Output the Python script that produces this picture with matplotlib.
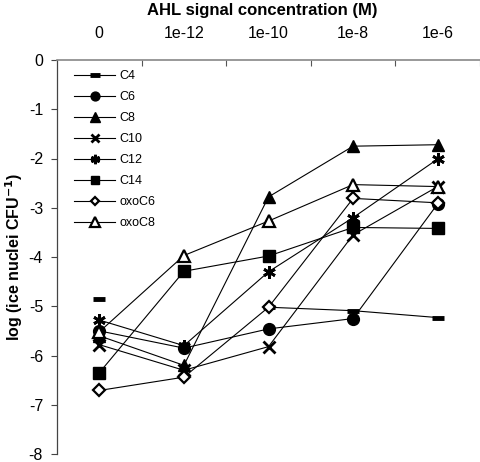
import numpy as np
import matplotlib
matplotlib.use("Agg")
import matplotlib.pyplot as plt

plt.rcParams['font.family'] = ['Liberation Sans', 'DejaVu Sans']
plt.rcParams['axes.unicode_minus'] = False

categories = ["0", "1e-12", "1e-10", "1e-8", "1e-6"]
nan = np.nan
C4 = [-4.85, nan, -5.02, -5.09, -5.23]
C6 = [-5.50, -5.85, -5.46, -5.25, -2.92]
C8 = [-5.60, -6.20, -2.78, -1.75, -1.72]
C10 = [-5.78, -6.30, -5.82, -3.55, -2.57]
C12 = [-5.28, -5.80, -4.30, -3.20, -2.01]
C14 = [-6.35, -4.29, -3.98, -3.40, -3.42]
oxoC6 = [-6.71, -6.44, -5.02, -2.81, -2.90]
oxoC8 = [-5.52, -3.97, -3.27, -2.53, -2.57]

series = [
    ("C4", C4, dict(marker='_', ms=9, mew=3.5, mfc='black')),
    ("C6", C6, dict(marker='o', ms=8.5, mfc='black')),
    ("C8", C8, dict(marker='^', ms=9, mfc='black')),
    ("C10", C10, dict(marker='x', ms=8, mew=2.0)),
    ("C12", C12, dict(marker=(6, 2, 0), ms=9, mew=2.0)),
    ("C14", C14, dict(marker='s', ms=8.5, mfc='black')),
    ("oxoC6", oxoC6, dict(marker='D', ms=6, mfc='white', mew=1.6)),
    ("oxoC8", oxoC8, dict(marker='^', ms=9, mfc='white', mew=1.6)),
]

top_px, bot_px = 60, 454
fig = plt.figure(figsize=(4.8, 4.62), dpi=100)
ax = fig.add_axes([57/480, 1-bot_px/462, 1-57/480, (bot_px-top_px)/462])

x = np.arange(len(categories))
for name, vals, st in series:
    v = np.array(vals, dtype=float)
    ax.plot(x, v, color='black', lw=0.8, mec='black', label=name, **st)

ax.set_xlim(-0.5, 4.5)
ax.set_ylim(-8, 0)
ax.xaxis.tick_top()
ax.set_xticks(np.arange(0.5, 5, 1.0))
ax.set_xticklabels([])
ax.set_xticks(x, minor=True)
ax.set_xticklabels(categories, minor=True)
ax.tick_params(axis='x', which='major', direction='in', length=4, width=0.8, color='#555555')
ax.tick_params(axis='x', which='minor', length=0, pad=14, labelsize=11.5)
ax.set_yticks(np.arange(-8, 1, 1))
ax.tick_params(axis='y', direction='out', length=4, width=0.8, pad=6, labelsize=11.5, color='#444444')

ax.spines['right'].set_visible(False)
ax.spines['bottom'].set_visible(False)
ax.spines['top'].set_color('#888888')
ax.spines['top'].set_linewidth(1.2)
ax.spines['left'].set_color('#444444')
ax.spines['left'].set_linewidth(0.9)

h = bot_px - top_px
ax.set_ylabel("log (ice nuclei CFU$^{\\mathbf{-1}}$)", fontsize=11.5, fontweight='bold')
ax.yaxis.label.set_va('center')
ax.yaxis.set_label_coords((14-57)/423, (bot_px-257)/h)
fig.text(262/480, 1-10/462, "AHL signal concentration (M)", ha='center', va='center',
         fontsize=12, fontweight='bold')

leg = ax.legend(loc='upper left', bbox_to_anchor=(17/423, 1-10/h), frameon=False,
                fontsize=9, handlelength=3.3, handletextpad=0.3, labelspacing=0.72,
                borderpad=0, borderaxespad=0, markerscale=0.75)

fig.savefig("out.png", dpi=100)
